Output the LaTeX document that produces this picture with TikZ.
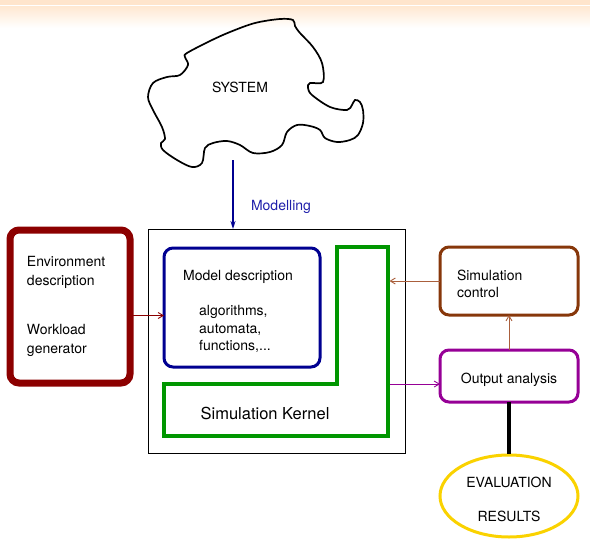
\documentclass[tikz,border=0pt]{standalone}
\usepackage{fontspec}
\setmainfont{TeX Gyre Heros}
\usetikzlibrary{shapes.geometric,arrows.meta}

\definecolor{envred}{RGB}{140,0,0}
\definecolor{modelblue}{RGB}{0,0,145}
\definecolor{kernelgreen}{RGB}{0,150,0}
\definecolor{ctrlbrown}{RGB}{135,55,10}
\definecolor{ctrlarrow}{RGB}{170,95,60}
\definecolor{outpurple}{RGB}{150,0,150}
\definecolor{evalgold}{RGB}{250,210,0}
\definecolor{modeltext}{RGB}{30,30,170}

\begin{document}
\begin{tikzpicture}[x=1pt,y=-1pt,
		every node/.style={font=\fontsize{14}{19}\selectfont},
		box/.style={draw, rounded corners=9pt, inner sep=0pt, outer sep=0pt},
		thinarrow/.style={-{Straight Barb[length=5pt,width=6pt]}, line width=0.9pt},
	]
		\useasboundingbox (0,0) rectangle (590,539);
		\fill[orange!20!white] (0,0) rectangle (590,5);
		\shade[top color=orange!18!white, bottom color=white] (0,6) rectangle (590,28);

		\draw[line width=1.7pt] plot[smooth cycle, tension=0.55] coordinates {
			(187,53) (210,41) (230,32) (255,23) (280,19) (293,20) (295,26)
			(300,33) (313,47) (322,63) (323,82) (310,83) (308,88) (312,95)
			(330,107) (347,110) (352,105) (355,100) (360,102) (363,110) (363,123)
			(358,135) (350,140) (337,142) (325,138) (320,130) (310,126) (297,125)
			(287,132) (282,145) (270,152) (253,153) (240,145) (227,141) (213,143)
			(205,148) (202,163) (192,167) (177,160) (163,150) (161,143) (165,139)
			(162,127) (153,110) (148,97) (153,83) (167,77) (180,75) (188,65) (185,57)};
		\node (system) at (240,87) {SYSTEM};

		\coordinate (sysout) at (233,160);
		\node[draw, line width=0.8pt, minimum width=257, minimum height=224, inner sep=0pt, outer sep=0pt] (frame) at (276.5,341) {};
		\draw[-{Stealth[length=8pt,width=5pt]}, modelblue, line width=1.4pt] (sysout) -- (sysout |- frame.north);
		\node[text=modeltext] (modelling) at (281,207) {Modelling};

		\node[box, draw=envred, line width=7pt, minimum width=120, minimum height=153, text width=86, align=left] (env) at (70,306.5)
			{Environment\\description\\[30pt]Workload\\generator};

		\node[box, draw=modelblue, line width=3pt, minimum width=156, minimum height=119] (model) at (242,307.5) {};
		\node (modeltitle) at (238,276.5) {Model description};
		\node[anchor=west, align=left, inner sep=0pt, font=\fontsize{14}{17.5}\selectfont] (modellist) at (199,329) {algorithms,\\automata,\\functions,...};

		\draw[kernelgreen, line width=3.5pt, line join=miter] (337,247) -- (388,247) -- (388,436) -- (164,436) -- (164,384) -- (337,384) -- cycle;
		\node[minimum width=224, minimum height=189, inner sep=0pt, outer sep=0pt] (kernel) at (276,341.5) {};
		\node[font=\fontsize{16.5}{20}\selectfont] (kerneltext) at (265,413) {Simulation Kernel};

		\node[box, draw=ctrlbrown, line width=3pt, minimum width=138, minimum height=68, text width=104, align=left, font=\fontsize{14}{17}\selectfont] (ctrl) at (509,281)
			{\rule{0pt}{16pt}Simulation\\control};
		\node[box, draw=outpurple, line width=3pt, minimum width=138, minimum height=52, text height=19pt] (out) at (509,376) {Output analysis};
		\node[ellipse, draw=evalgold, line width=3pt, minimum width=138, minimum height=82, inner sep=0pt, align=center] (eval) at (509,496)
			{\rule{0pt}{18pt}EVALUATION\\[15pt]RESULTS};

		\draw[thinarrow, envred] ([yshift=-9pt]env.east) -- ([yshift=-9pt]env.east -| model.west);
		\draw[thinarrow, ctrlarrow, shorten >=1.5pt] (ctrl.west) -- (ctrl.west -| kernel.east);
		\draw[thinarrow, outpurple, shorten <=1.5pt] ([yshift=-8pt]out.west -| kernel.east) -- ([yshift=-8pt]out.west);
		\draw[thinarrow, ctrlarrow] (out.north) -- (ctrl.south);
		\draw[line width=4.5pt] (out.south) -- (eval.north);

	\end{tikzpicture}
\end{document}
